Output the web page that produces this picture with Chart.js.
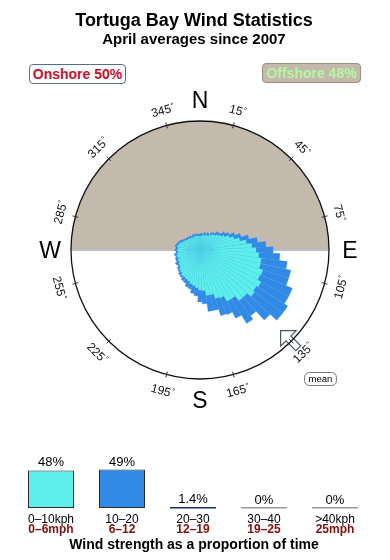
<!DOCTYPE html>
<html>
<head>
<meta charset="utf-8">
<script src="https://cdn.jsdelivr.net/npm/chart.js@4.4.1/dist/chart.umd.min.js"></script>
<style>
    html, body { margin: 0; padding: 0; background: #fff; }
    #wrap { position: relative; width: 390px; height: 560px; overflow: hidden; font-family: "Liberation Sans", Arial, sans-serif; }
    canvas { position: absolute; left: 0; }
    #rose { top: 0; }
    #bars { top: 440px; }
    .txt { position: absolute; left: 0; width: 388px; text-align: center; font-weight: bold; color: #000; white-space: nowrap; }
    #title { top: 11px; font-size: 18px; line-height: 18px; }
    #subtitle { top: 31px; font-size: 15px; line-height: 15px; }
    #caption { top: 537px; font-size: 14px; line-height: 14px; }
    .side { position: absolute; box-sizing: border-box; height: 20px; font-size: 14px; line-height: 18px; font-weight: bold; text-align: center; border-radius: 4px; }
    #onshore { left: 29px; top: 64px; width: 97px; border: 1px solid #4f6f9a; color: #c8102e; background: #fff; }
    #offshore { left: 262px; top: 63px; width: 99px; border: 1px solid #9b9182; color: #b6f5a2; background: #c4b9ab; }
</style>
</head>
<body>
<div id="wrap">
    <canvas id="rose" width="390" height="560"></canvas>
    <canvas id="bars" width="390" height="120"></canvas>
    <div class="txt" id="title">Tortuga Bay Wind Statistics</div>
    <div class="txt" id="subtitle">April averages since 2007</div>
    <div class="side" id="onshore"></div>
    <div class="side" id="offshore"></div>
    <div class="txt" id="caption">Wind strength as a proportion of time</div>
</div>
<script>
    // wind direction bins (5 degree wide, centre of bin)
    const directions = [0, 5, 10, 15, 20, 25, 30, 35, 40, 45, 50, 55, 60, 65, 70, 75, 80, 85, 90, 95,
        100, 105, 110, 115, 120, 125, 130, 135, 140, 145, 150, 155, 160, 165, 170, 175, 180, 185, 190, 195,
        200, 205, 210, 215, 220, 225, 230, 235, 240, 245, 250, 255, 260, 265, 270, 275, 280, 285, 290, 295,
        300, 305, 310, 315, 320, 325, 330, 335, 340, 345, 350, 355];

    // length of the 0-10kph part of every wedge (circle edge = 129)
    const lightWind = [14, 14, 15, 15, 16, 16, 17, 18, 20, 21,
        23, 25, 28, 32, 36, 41, 47, 52, 56, 59,
        62, 62, 66, 65, 69, 67, 69, 64, 64, 58,
        58, 52, 51, 46, 46, 41, 40, 38, 36, 35,
        33, 32, 31, 31, 29, 28, 26, 25, 24, 24,
        23, 24, 23, 22, 23, 22, 23, 22, 21, 19,
        18, 17, 16, 16, 15, 15, 14, 15, 14, 15,
        14, 14];

    // length of the 10-20kph part, on top of the light part
    const moderateWind = [2, 3, 1, 3, 1, 3, 1, 3, 2, 4,
        3, 5, 5, 6, 7, 9, 11, 14, 17, 21,
        26, 31, 27, 35, 31, 37, 35, 31, 19, 29,
        19, 18, 18, 16, 16, 13, 12, 8, 8, 5,
        6, 4, 4, 2, 3, 2, 3, 2, 4, 2,
        3, 1, 3, 2, 2, 2, 2, 2, 2, 3,
        2, 2, 2, 2, 2, 2, 2, 2, 2, 2,
        2, 2];

    const roseMax = 129;
    const degreeTicks = [15, 45, 75, 105, 135, 165, 195, 225, 255, 285, 315, 345];
    const compassPoints = ['N', 'E', 'S', 'W'];
    const meanDirection = 135;
    const onshoreShare = 50;
    const offshoreShare = 48;

    // wind strength bands
    const bandKph = ['0\u201310kph', '10\u201320', '20\u201330', '30\u201340', '>40kph'];
    const bandMph = ['0\u20136mph', '6\u201312', '12\u201319', '19\u201325', '25mph'];
    const bandShare = [48, 49, 1.4, 0, 0];
    const bandLabels = ['48%', '49%', '1.4%', '0%', '0%'];

    const CYAN = '#5eeeec';
    const BLUE = '#308ae6';
    const FONT = '"Liberation Sans", Arial, sans-serif';

    document.getElementById('onshore').textContent = 'Onshore ' + onshoreShare + '%';
    document.getElementById('offshore').textContent = 'Offshore ' + offshoreShare + '%';

    const outerWind = lightWind.map((v, i) => v + moderateWind[i]);

    function compass(scale, deg, r) {
        const a = deg * Math.PI / 180;
        return [scale.xCenter + r * Math.sin(a), scale.yCenter - r * Math.cos(a)];
    }

    const roseDecor = {
        id: 'roseDecor',
        beforeDatasetsDraw(chart) {
            const s = chart.scales.r;
            const ctx = chart.ctx;
            const cx = s.xCenter, cy = s.yCenter, R = s.drawingArea;
            ctx.save();
            ctx.fillStyle = '#c4b9ad';
            ctx.beginPath();
            ctx.moveTo(cx - R, cy);
            ctx.arc(cx, cy, R, Math.PI, 2 * Math.PI);
            ctx.closePath();
            ctx.fill();
            ctx.strokeStyle = '#a9c5df';
            ctx.lineWidth = 1;
            ctx.beginPath();
            ctx.moveTo(cx - R, cy + 0.5);
            ctx.lineTo(cx + R, cy + 0.5);
            ctx.stroke();
            ctx.restore();
        },
        afterDatasetsDraw(chart) {
            const s = chart.scales.r;
            const ctx = chart.ctx;
            const cx = s.xCenter, cy = s.yCenter, R = s.drawingArea;
            ctx.save();

            // mean direction arrow
            const a = meanDirection * Math.PI / 180;
            const u = [Math.sin(a), -Math.cos(a)];
            const v = [Math.cos(a), Math.sin(a)];
            const shape = [[R - 15, 0], [R - 4, 11], [R - 4, 3.5], [R + 10, 3.5], [R + 10, -3.5], [R - 4, -3.5], [R - 4, -11]];
            ctx.beginPath();
            shape.forEach(([along, across], i) => {
                const x = cx + along * u[0] + across * v[0];
                const y = cy + along * u[1] + across * v[1];
                if (i === 0) ctx.moveTo(x, y); else ctx.lineTo(x, y);
            });
            ctx.closePath();
            ctx.fillStyle = '#fff';
            ctx.fill();
            ctx.strokeStyle = '#4a5866';
            ctx.lineWidth = 1.2;
            ctx.stroke();

            // outer circle
            ctx.strokeStyle = '#111';
            ctx.lineWidth = 1.3;
            ctx.beginPath();
            ctx.arc(cx, cy, R, 0, 2 * Math.PI);
            ctx.stroke();

            // ticks and degree labels
            ctx.lineWidth = 1;
            ctx.strokeStyle = '#333';
            ctx.fillStyle = '#111';
            degreeTicks.forEach(d => {
                const p1 = compass(s, d, R - 3);
                const p2 = compass(s, d, R + 3);
                ctx.beginPath();
                ctx.moveTo(p1[0], p1[1]);
                ctx.lineTo(p2[0], p2[1]);
                ctx.stroke();

                const p = compass(s, d, R + 16);
                const rad = d * Math.PI / 180;
                const rot = Math.cos(rad) >= 0 ? rad : rad - Math.PI;
                ctx.save();
                ctx.translate(p[0], p[1]);
                ctx.rotate(rot);
                ctx.font = '12px ' + FONT;
                const num = String(d);
                const w = ctx.measureText(num).width;
                ctx.textAlign = 'left';
                ctx.textBaseline = 'alphabetic';
                ctx.fillText(num, -w / 2 - 1.5, 4.5);
                ctx.font = '8px ' + FONT;
                ctx.fillText('\u00b0', w / 2 - 1, 1);
                ctx.restore();
            });

            // N E S W
            ctx.font = '23px ' + FONT;
            ctx.textAlign = 'center';
            ctx.textBaseline = 'alphabetic';
            ctx.fillStyle = '#000';
            compassPoints.forEach((name, i) => {
                const p = compass(s, i * 90, R + 21);
                ctx.fillText(name, p[0], p[1] + 8.2);
            });

            // mean label
            ctx.beginPath();
            ctx.roundRect(cx + 104.5, cy + 122.5, 32, 13, 5);
            ctx.fillStyle = '#fff';
            ctx.fill();
            ctx.strokeStyle = '#777';
            ctx.lineWidth = 1;
            ctx.stroke();
            ctx.fillStyle = '#000';
            ctx.font = '9.5px ' + FONT;
            ctx.fillText('mean', cx + 120.5, cy + 132);
            ctx.restore();
        }
    };

    new Chart(document.getElementById('rose'), {
        type: 'polarArea',
        data: {
            labels: directions,
            datasets: [
                {
                    label: '0-10kph',
                    data: lightWind,
                    backgroundColor: CYAN,
                    borderColor: 'rgba(70,200,215,0.25)',
                    borderWidth: 0.5
                },
                {
                    label: '10-20kph',
                    data: outerWind,
                    backgroundColor: BLUE,
                    borderColor: BLUE,
                    borderWidth: 0.3
                }
            ]
        },
        options: {
            responsive: false,
            animation: false,
            layout: { padding: { left: 71, right: 61, top: 121, bottom: 181 } },
            scales: {
                r: {
                    min: 0,
                    max: roseMax,
                    startAngle: -2.5,
                    ticks: { display: false },
                    grid: { display: false },
                    angleLines: { display: false },
                    pointLabels: { display: false }
                }
            },
            plugins: { legend: { display: false }, tooltip: { enabled: false } }
        },
        plugins: [roseDecor]
    });

    const baseColors = ['#2b2b2b', '#2b2b2b', '#1c2f6b', '#9a9a9a', '#9a9a9a'];

    const barText = {
        id: 'barText',
        afterDatasetsDraw(chart) {
            const ctx = chart.ctx;
            const meta = chart.getDatasetMeta(0);
            const base = chart.scales.y.getPixelForValue(0);
            ctx.save();
            meta.data.forEach((bar, i) => {
                const half = bar.width / 2;
                if (bandShare[i] < 2) {
                    ctx.strokeStyle = baseColors[i];
                    ctx.lineWidth = 1.6;
                    ctx.beginPath();
                    ctx.moveTo(bar.x - half, base - 0.3);
                    ctx.lineTo(bar.x + half, base - 0.3);
                    ctx.stroke();
                }
                ctx.textAlign = 'center';
                ctx.textBaseline = 'alphabetic';
                ctx.fillStyle = '#000';
                ctx.font = '13px ' + FONT;
                ctx.fillText(bandLabels[i], bar.x, Math.min(bar.y, base) - 4);
                ctx.font = '12px ' + FONT;
                ctx.fillText(bandKph[i], bar.x, base + 14.7);
                ctx.fillStyle = '#840d0d';
                ctx.font = 'bold 12px ' + FONT;
                ctx.fillText(bandMph[i], bar.x, base + 24.7);
            });
            ctx.restore();
        }
    };

    new Chart(document.getElementById('bars'), {
        type: 'bar',
        data: {
            labels: bandKph,
            datasets: [{
                data: bandShare,
                backgroundColor: [CYAN, BLUE, '#1c2f6b', '#9a9a9a', '#9a9a9a'],
                borderColor: ['#2b2b2b', '#2b2b2b', '#1c2f6b', '#9a9a9a', '#9a9a9a'],
                borderWidth: 1,
                borderSkipped: false,
                barPercentage: 0.648,
                categoryPercentage: 1
            }]
        },
        options: {
            responsive: false,
            animation: false,
            layout: { padding: { left: 15.5, right: 19.5, top: 21, bottom: 52 } },
            scales: {
                x: { display: false },
                y: { display: false, min: 0, max: 60 }
            },
            plugins: { legend: { display: false }, tooltip: { enabled: false } }
        },
        plugins: [barText]
    });
</script>
</body>
</html>
